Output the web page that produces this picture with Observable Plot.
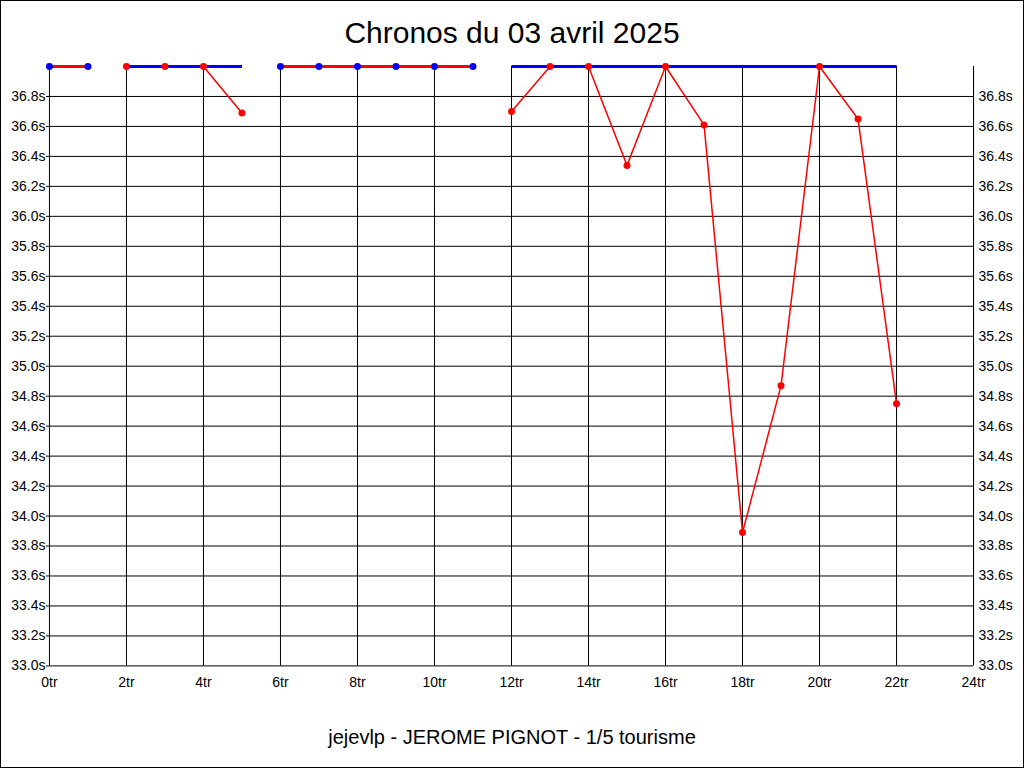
<!DOCTYPE html>
<html>
<head>
<meta charset="utf-8">
<script src="https://cdn.jsdelivr.net/npm/d3@7"></script>
<script src="https://cdn.jsdelivr.net/npm/@observablehq/plot@0.6"></script>
<style>
html, body { margin: 0; padding: 0; background: #fff; }
#frame { position: relative; width: 1024px; height: 768px; box-sizing: border-box; border: 1px solid #000; overflow: hidden; font-family: "Liberation Sans", Arial, sans-serif; color: #000; }
#title { position: absolute; left: 0; top: 12px; width: 1022px; height: 40px; line-height: 40px; text-align: center; font-size: 30px; white-space: nowrap; }
#chart { position: absolute; left: -1px; top: 49px; }
#caption { position: absolute; left: 0; top: 716px; width: 1022px; height: 40px; line-height: 40px; text-align: center; font-size: 20px; white-space: nowrap; }
</style>
</head>
<body>
<div id="frame">
  <div id="title">Chronos du 03 avril 2025</div>
  <div id="chart"></div>
  <div id="caption">jejevlp - JEROME PIGNOT - 1/5 tourisme</div>
</div>
<script>
// Lap numbers
const laps = [0, 1, 2, 3, 4, 5, 6, 7, 8, 9, 10, 11, 12, 13, 14, 15, 16, 17, 18, 19, 20, 21, 22];
// Lap times in seconds (values at or above the top of the scale are shown at 37.0)
const times = [37.0, 37.0, 37.0, 37.0, 37.0, 36.69, 37.0, 37.0, 37.0, 37.0, 37.0, 37.0, 36.70, 37.0, 37.0, 36.34, 37.0, 36.61, 33.89, 34.87, 37.0, 36.65, 34.75];
// Session (run) each lap belongs to
const session = [1, 1, 2, 2, 2, 2, 3, 3, 3, 3, 3, 3, 4, 4, 4, 4, 4, 4, 4, 4, 4, 4, 4];
// Tick values
const xTicks = [0, 2, 4, 6, 8, 10, 12, 14, 16, 18, 20, 22, 24];
const yTicks = [33.0, 33.2, 33.4, 33.6, 33.8, 34.0, 34.2, 34.4, 34.6, 34.8, 35.0, 35.2, 35.4, 35.6, 35.8, 36.0, 36.2, 36.4, 36.6, 36.8];
const xDomain = [0, 24];
const yDomain = [33, 37];

const yCap = yDomain[1];
const data = laps.map((lap, i) => ({lap, t: Math.min(times[i], yCap), s: session[i]}));
const sessionIds = Array.from(new Set(session));
const isFull = new Map(sessionIds.map(s => [s, data.filter(d => d.s === s).every(d => d.t >= yCap)]));
const capData = sessionIds.flatMap(s => {
  const ls = data.filter(d => d.s === s).map(d => d.lap);
  return [{lap: d3.min(ls), t: yCap, s}, {lap: d3.max(ls), t: yCap, s}];
});
const partialData = data.filter(d => !isFull.get(d.s));
const fullData = data.filter(d => isFull.get(d.s));

const chart = Plot.plot({
  width: 1024,
  height: 650,
  marginTop: 16,
  marginBottom: 34,
  marginLeft: 49,
  marginRight: 50,
  style: {fontFamily: "'Liberation Sans', Arial, sans-serif", fontSize: "14px", color: "#000", background: "transparent", overflow: "visible"},
  x: {domain: xDomain},
  y: {domain: yDomain},
  marks: [
    Plot.ruleY(yTicks, {y: d => d, stroke: "#000", strokeWidth: 1}),
    Plot.ruleX(xTicks, {x: d => d, stroke: "#000", strokeWidth: 1}),
    Plot.ruleX([xDomain[1]], {x: d => d, stroke: "#000", strokeWidth: 1}),
    Plot.axisY({anchor: "left", ticks: yTicks, tickFormat: d => d.toFixed(1) + "s", tickSize: 3, tickPadding: 1, label: null, stroke: "#000", fill: "#000"}),
    Plot.axisY({anchor: "right", ticks: yTicks, tickFormat: d => d.toFixed(1) + "s", tickSize: 0, tickPadding: 5, label: null, fill: "#000"}),
    Plot.axisX({anchor: "bottom", ticks: xTicks, tickFormat: d => d + "tr", tickSize: 0, tickPadding: 11, label: null, fill: "#000"}),
    Plot.line(partialData, {x: "lap", y: "t", z: "s", stroke: "#ff0000", strokeWidth: 1.5}),
    Plot.line(capData, {x: "lap", y: "t", z: "s", stroke: "#0000ff", strokeWidth: 3, strokeLinecap: "butt"}),
    Plot.line(fullData, {x: "lap", y: "t", z: "s", stroke: "#ff0000", strokeWidth: 3, strokeLinecap: "butt"}),
    Plot.dot(data, {x: "lap", y: "t", r: 3.5, fill: d => isFull.get(d.s) ? "#0000ff" : "#ff0000", stroke: "none"})
  ]
});
document.getElementById("chart").appendChild(chart);
</script>
</body>
</html>
